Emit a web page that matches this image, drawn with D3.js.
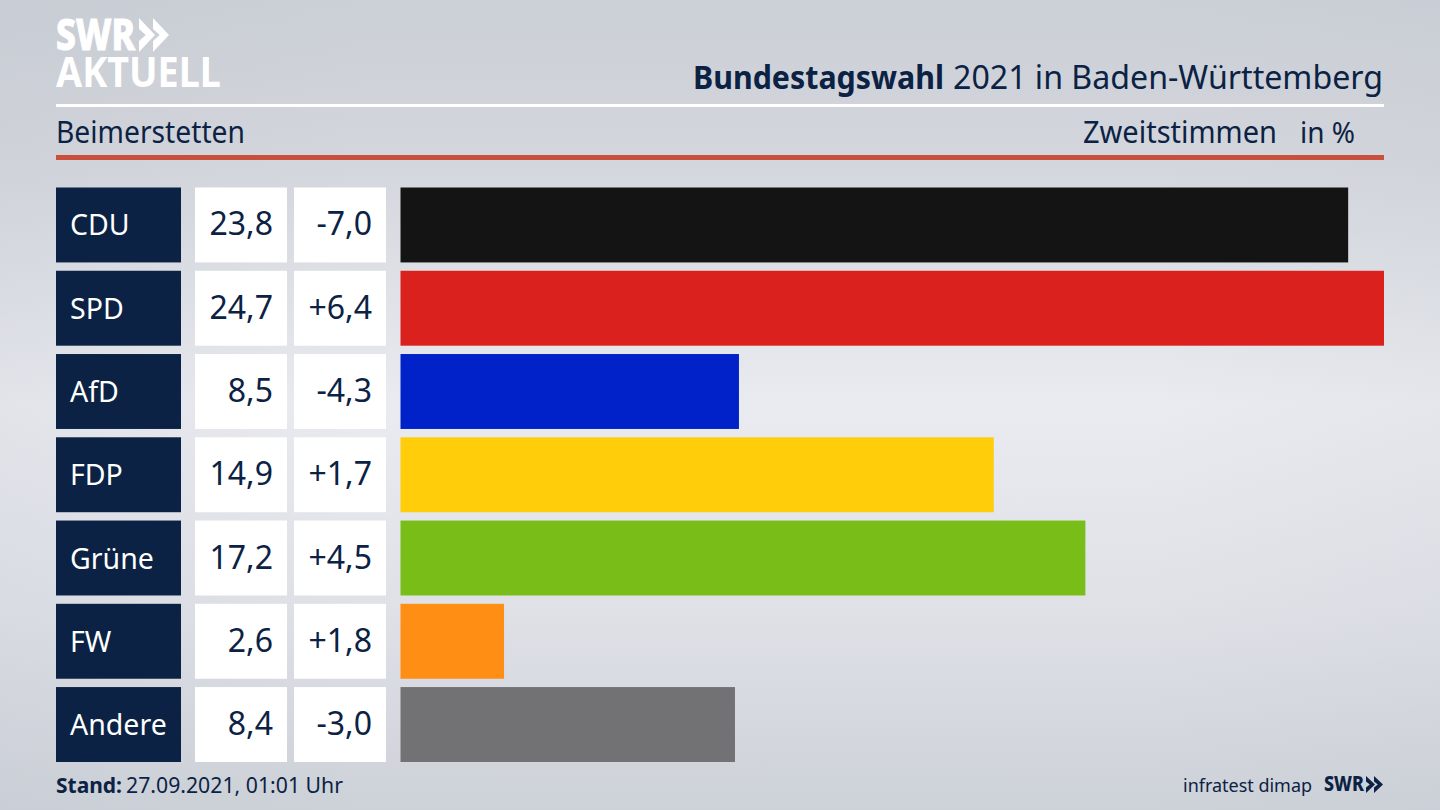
<!DOCTYPE html>
<html><head><meta charset="utf-8">
<script src="https://cdn.jsdelivr.net/npm/d3@7"></script>
<style>html,body{margin:0;padding:0;width:1440px;height:810px;overflow:hidden;background:#d5d8de}svg{display:block}text{font-family:"Noto Sans",sans-serif}</style>
</head><body><svg id="c" width="1440" height="810"></svg>
<script>
const parties=["CDU","SPD","AfD","FDP","Grüne","FW","Andere"];
const shares=[23.8,24.7,8.5,14.9,17.2,2.6,8.4];
const changes=[-7.0,6.4,-4.3,1.7,4.5,1.8,-3.0];
const colors=["#141414","#da211e","#0022c8","#ffcd0a","#79bd19","#ff8e14","#727274"];
const navy="#0b2244";
const svg=d3.select("#c");
const defs=svg.append("defs");
const g0=defs.append("linearGradient").attr("id","bgv").attr("x1",0).attr("x2",0).attr("y1",0).attr("y2",1);
[[0,"#cbcfd6"],[0.2,"#d3d6dc"],[0.5,"#e9ebf0"],[0.75,"#dfe1e7"],[1,"#cdd1d8"]].forEach(d=>g0.append("stop").attr("offset",d[0]).attr("stop-color",d[1]));
const g1=defs.append("linearGradient").attr("id","bgh").attr("x1",0).attr("x2",1).attr("y1",0).attr("y2",0);
[[0,0.16],[0.25,0],[0.8,0],[1,0.1]].forEach(d=>g1.append("stop").attr("offset",d[0]).attr("stop-color","#b9bec8").attr("stop-opacity",d[1]));
svg.append("rect").attr("width",1440).attr("height",810).attr("fill","url(#bgv)");
svg.append("rect").attr("width",1440).attr("height",810).attr("fill","url(#bgh)");

const x=d3.scaleLinear().domain([0,24.7]).range([400.5,1384]);
const y=d3.scaleBand().domain(parties).range([187.5,762]).paddingInner(0.1).paddingOuter(0);
const fmt=v=>v.toFixed(1).replace(".",",");
const fmtC=v=>(v>0?"+":"")+fmt(v);
const rows=svg.selectAll("g.r").data(parties.map((p,i)=>({p,s:shares[i],c:changes[i],col:colors[i]}))).join("g").attr("class","r");
const H=y.bandwidth();
rows.append("rect").attr("x",56).attr("width",125).attr("y",d=>y(d.p)).attr("height",H).attr("fill",navy);
rows.append("rect").attr("x",195).attr("width",92).attr("y",d=>y(d.p)).attr("height",H).attr("fill","#fff");
rows.append("rect").attr("x",294).attr("width",92).attr("y",d=>y(d.p)).attr("height",H).attr("fill","#fff");
rows.append("rect").attr("x",x(0)).attr("width",d=>x(d.s)-x(0)).attr("y",d=>y(d.p)).attr("height",H).attr("fill",d=>d.col);
const base=d=>y(d.p)+H/2+10.5;
rows.append("text").attr("x",70).attr("y",base).attr("fill","#fff").attr("font-size",28.5).text(d=>d.p);
rows.append("text").attr("x",273).attr("y",base).attr("text-anchor","end").attr("fill",navy).attr("font-size",32).text(d=>fmt(d.s));
rows.append("text").attr("x",372).attr("y",base).attr("text-anchor","end").attr("fill",navy).attr("font-size",32).text(d=>fmtC(d.c));

// header rules
svg.append("rect").attr("x",56).attr("y",104).attr("width",1328).attr("height",3).attr("fill","#fff");
svg.append("rect").attr("x",56).attr("y",155).attr("width",1328).attr("height",5).attr("fill","#c9503c");

function label(px,py,size,weight,len,str){
 return svg.append("text").attr("x",px).attr("y",py).attr("fill",navy).attr("font-size",size).attr("font-weight",weight)
  .attr("textLength",len).attr("lengthAdjust","spacingAndGlyphs").text(str);
}
label(693,89,33,700,251,"Bundestagswahl");
label(953,89,33,400,430,"2021 in Baden-Württemberg");
label(56,143,30,400,189,"Beimerstetten");
label(1083,143,30,400,194,"Zweitstimmen");
label(1300,143,29,400,55,"in %");
label(56,793,22,700,66,"Stand:");
label(126,793,22,400,217,"27.09.2021, 01:01 Uhr");
label(1183,792,18.5,400,129,"infratest dimap");

// logos
function chev(x0,y0,h,w,gap,fill){
 const p=`M0 0 L${w} ${h/2} L0 ${h} L0 ${h*0.68} L${w*0.42} ${h/2} L0 ${h*0.32} Z`;
 [0,gap].forEach(dx=>svg.append("path").attr("d",p).attr("transform",`translate(${x0+dx},${y0})`).attr("fill",fill));
}
svg.append("text").attr("x",56).attr("y",50).attr("fill","#fff").attr("stroke","#fff").attr("stroke-width",1).attr("font-size",42).attr("font-weight",800).attr("textLength",79).attr("lengthAdjust","spacingAndGlyphs").text("SWR");
chev(139,18,34,16,14,"#fff");
svg.append("text").attr("x",56).attr("y",87).attr("fill","#fff").attr("font-size",42).attr("font-weight",700).attr("textLength",165).attr("lengthAdjust","spacingAndGlyphs").text("AKTUELL");
svg.append("text").attr("x",1324).attr("y",791).attr("fill",navy).attr("font-size",21).attr("font-weight",800).attr("textLength",40).attr("lengthAdjust","spacingAndGlyphs").text("SWR");
chev(1366,776,17,9,8,navy);
</script></body></html>
